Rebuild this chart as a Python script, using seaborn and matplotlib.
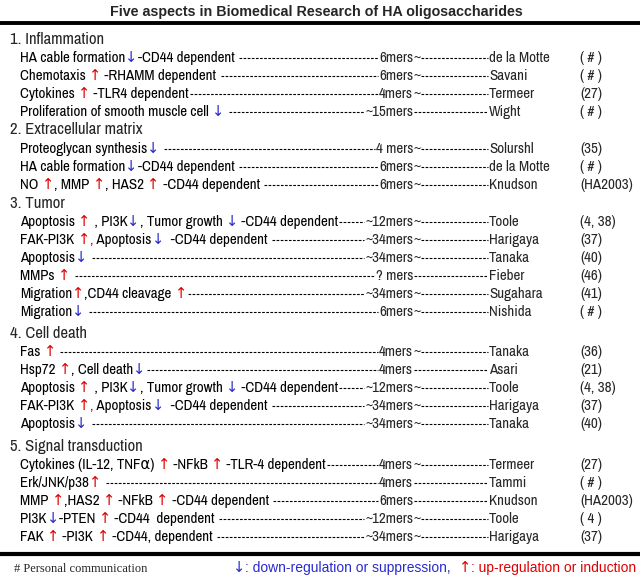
import matplotlib
matplotlib.use("Agg")
import matplotlib.pyplot as plt
from matplotlib import font_manager as fm
import seaborn as sns

sns.set_theme(style="white")
installed = {f.name for f in fm.fontManager.ttflist}
NARROW = next((n for n in ["Liberation Sans Narrow", "Arial Narrow", "Archivo Narrow"]
               if n in installed), "Liberation Sans")
TEXT_FONT = [NARROW, "DejaVu Sans"]
plt.rcParams['font.family'] = TEXT_FONT

title = "Five aspects in Biomedical Research of HA oligosaccharides"
sections = ["1. Inflammation", "2. Extracellular matrix", "3. Tumor",
            "4. Cell death", "5. Signal transduction"]

# {U} = red up arrow, {D} = blue down arrow
effects = [
    ["HA cable formation{D}-CD44 dependent ",
     "Chemotaxis {U} -RHAMM dependent ",
     "Cytokines {U} -TLR4 dependent",
     "Proliferation of smooth muscle cell {D} "],
    ["Proteoglycan synthesis{D} ",
     "HA cable formation{D}-CD44 dependent ",
     "NO {U}, MMP {U}, HAS2 {U} -CD44 dependent "],
    ["Apoptosis {U} , PI3K{D}, Tumor growth {D} -CD44 dependent",
     "FAK-PI3K {U,} Apoptosis{D}  -CD44 dependent ",
     "Apoptosis{D} ",
     "MMPs {U} ",
     "Migration{U},CD44 cleavage {U}",
     "Migration{D} "],
    ["Fas {U} ",
     "Hsp72 {U}, Cell death{D}",
     "Apoptosis {U} , PI3K{D}, Tumor growth {D} -CD44 dependent",
     "FAK-PI3K {U,} Apoptosis{D}  -CD44 dependent ",
     "Apoptosis{D} "],
    ["Cytokines (IL-12, TNF\u03b1) {U} -NFkB {U} -TLR-4 dependent",
     "Erk/JNK/p38{U} ",
     "MMP {U},HAS2 {U} -NFkB {U} -CD44 dependent ",
     "PI3K{D}-PTEN {U} -CD44  dependent ",
     "FAK {U} -PI3K {U} -CD44, dependent "],
]
mers = [
    ["6mers~", "6mers~", "4mers~", "~15mers"],
    ["4 mers~", "6mers~", "6mers~"],
    ["~12mers~", "~34mers~", "~34mers~", "? mers", "~34mers~", "6mers~"],
    ["4mers~", "4mers", "~12mers~", "~34mers~", "~34mers~"],
    ["4mers~", "4mers", "6mers", "~12mers~", "~34mers~"],
]
authors = [
    ["de la Motte", "Savani", "Termeer", "Wight"],
    ["Solurshl", "de la Motte", "Knudson"],
    ["Toole", "Harigaya", "Tanaka", "Fieber", "Sugahara", "Nishida"],
    ["Tanaka", "Asari", "Toole", "Harigaya", "Tanaka"],
    ["Termeer", "Tammi", "Knudson", "Toole", "Harigaya"],
]
refs = [
    ["( # )", "( # )", "(27)", "( # )"],
    ["(35)", "( # )", "(HA2003)"],
    ["(4, 38)", "(37)", "(40)", "(46)", "(41)", "( # )"],
    ["(36)", "(21)", "(4, 38)", "(37)", "(40)"],
    ["(27)", "( # )", "(HA2003)", "( 4 )", "(37)"],
]
legend_down = "{D}: down-regulation or suppression,  "
legend_up = "{U}: up-regulation or induction"
footnote = "# Personal communication"

RED = "#e00000"
BLUE = "#2a2ad0"
FS = 10.8          # row text
AFS = 10.5         # arrows
ARROW_FONT = ["DejaVu Sans"]

# layout
section_y = [39, 130, 203, 333, 446]
row_step = 18
start_x = 20
mers_end = 413
author_x = 489
ref_x = 580

fig = plt.figure(figsize=(6.4, 5.78), dpi=100)
ax = fig.add_axes([0, 0, 1, 1])
ax.set_xlim(0, 640)
ax.set_ylim(578, 0)
ax.axis("off")
renderer = fig.canvas.get_renderer()


def width(s, **kw):
    t = ax.text(0, 0, s + "|", **kw)
    w1 = t.get_window_extent(renderer).width
    t.set_text("|")
    w0 = t.get_window_extent(renderer).width
    t.remove()
    return w1 - w0


def parse(s, base_color="black"):
    segs = []
    while s:
        i = s.find("{")
        if i < 0:
            segs.append((s, base_color, False))
            break
        if i > 0:
            segs.append((s[:i], base_color, False))
        j = s.find("}", i)
        tok = s[i + 1:j]
        if tok[0] == "U":
            segs.append(("\u2191", RED, True))
        else:
            segs.append(("\u2193", BLUE, True))
        if tok[1:]:
            segs.append((tok[1:], RED, False))
        s = s[j + 1:]
    return segs


def draw_segments(x, y, segs, fs, family=None, afs=AFS):
    family = family or TEXT_FONT
    for txt, col, is_arrow in segs:
        kw = dict(fontsize=afs, family=ARROW_FONT) if is_arrow else \
            dict(fontsize=fs, family=family)
        ax.text(x, y, txt, color=col, va="baseline", ha="left", **kw)
        x += width(txt, **kw)
    return x


def dashes(x0, x1, y):
    if x1 > x0:
        ax.plot([x0, x1], [y, y], color="black", lw=0.8,
                dashes=(2.4, 1.3), solid_capstyle="butt")


ax.text(316, 12, title, ha="center", va="center", fontsize=10.3,
        fontweight="bold", family=["Liberation Sans", "DejaVu Sans"])
ax.axhline(23, color="black", lw=2.8)

for sec, sy, effs, ms, aus, rfs in zip(sections, section_y, effects, mers,
                                       authors, refs):
    ax.text(10, sy, sec, fontsize=12, family=TEXT_FONT, va="center", ha="left")
    for k, (e, m, a, r) in enumerate(zip(effs, ms, aus, rfs)):
        base = sy + row_step * (k + 1) + 5
        dash_y = base - 4.5
        xe = draw_segments(start_x, base, parse(e), FS)
        core = m.rstrip("~")
        tail = m[len(core):]
        cw = width(core, fontsize=FS)
        ax.text(mers_end, base, core, fontsize=FS, va="baseline", ha="right")
        dashes(xe + 1, mers_end - cw - 1, dash_y)
        xm = mers_end
        if tail:
            ax.text(xm, base, tail, fontsize=FS, va="baseline", ha="left")
            xm += width(tail, fontsize=FS)
        dashes(xm + 1, author_x - 1, dash_y)
        ax.text(author_x, base, a, fontsize=FS, va="baseline", ha="left")
        aw = width(a, fontsize=FS)
        ax.text(max(ref_x, author_x + aw + 6), base, r, fontsize=FS,
                va="baseline", ha="left")

ax.axhline(554, color="black", lw=3)
ax.text(14, 572, footnote, fontsize=9, family="Liberation Serif",
        va="baseline", ha="left")
LEG = ["Liberation Sans", "DejaVu Sans"]
leg_segs = parse(legend_down, BLUE) + parse(legend_up, RED)
leg_w = sum(width(t, fontsize=10.5, family=ARROW_FONT) if arr
            else width(t, fontsize=10, family=LEG) for t, c, arr in leg_segs)
draw_segments(636 - leg_w, 572, leg_segs, 10, family=LEG, afs=10.5)

fig.savefig("out.png", dpi=100)
